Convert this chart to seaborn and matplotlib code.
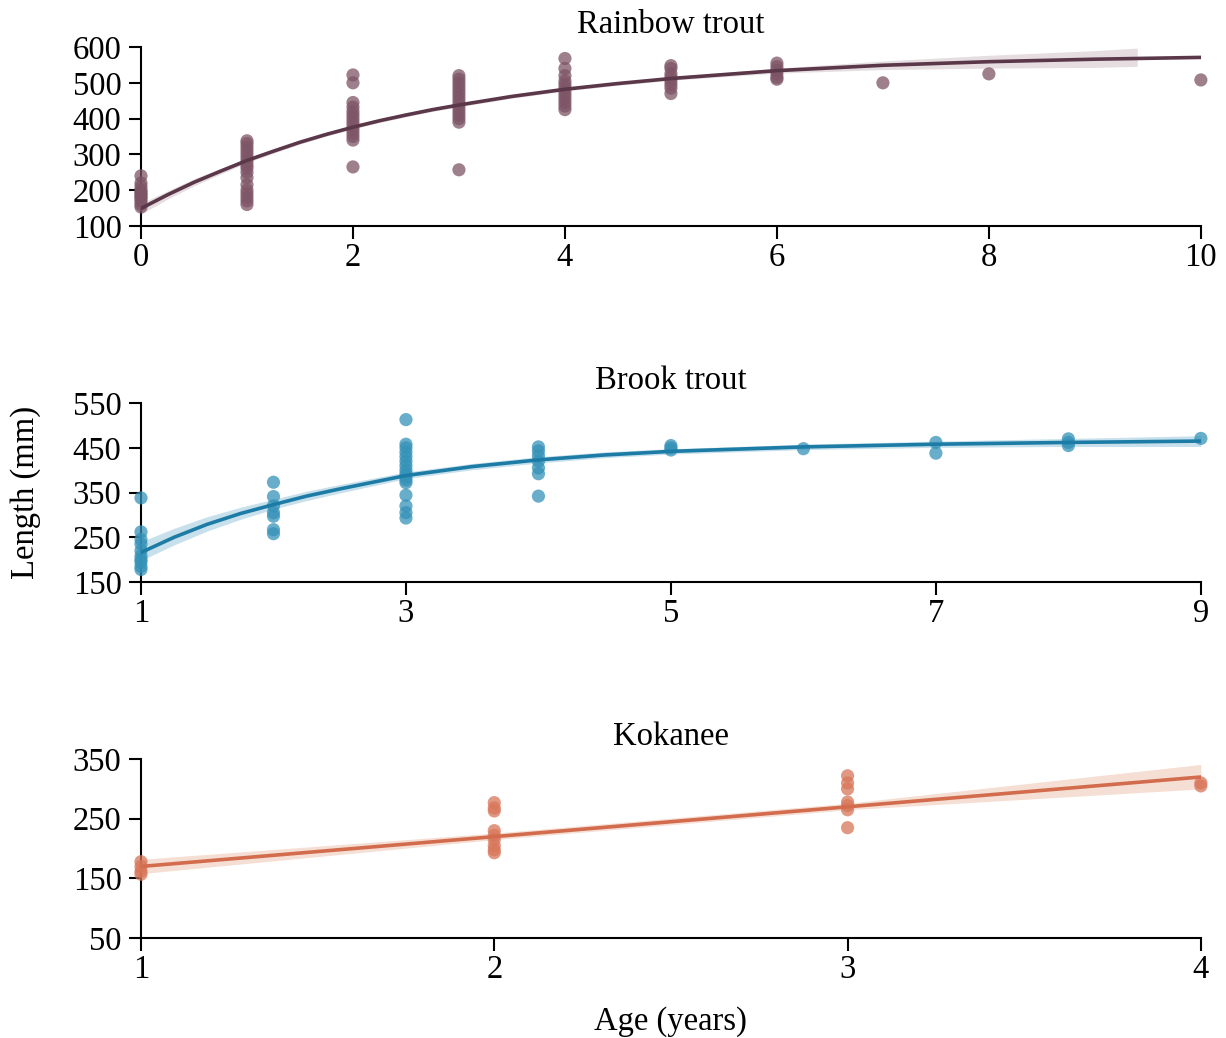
import numpy as np
import pandas as pd
import matplotlib
matplotlib.use("Agg")
import matplotlib.pyplot as plt
import seaborn as sns

# ---- observed lengths (mm) by age (years) ----
rainbow_age = ([0] * 12 + [1] * 17 + [2] * 14 + [3] * 15 + [4] * 12
               + [5] * 8 + [6] * 6 + [7, 8, 10])
rainbow_len = [240, 220, 210, 200, 195, 190, 185, 180, 175, 168, 160, 153,
               338, 330, 320, 310, 300, 290, 280, 270, 262, 250, 235, 215, 200, 190, 180, 170, 160,
               522, 500, 445, 432, 420, 410, 400, 390, 380, 370, 360, 350, 340, 265,
               520, 510, 500, 490, 480, 470, 460, 450, 440, 430, 420, 410, 400, 390, 257,
               568, 540, 520, 505, 495, 485, 475, 465, 455, 445, 435, 425,
               548, 540, 525, 515, 505, 495, 485, 470,
               555, 545, 535, 525, 515, 510,
               500, 525, 508]

brook_age = ([1] * 10 + [2] * 7 + [3] * 16 + [4] * 7 + [5] * 3 + [6]
             + [7] * 2 + [8] * 3 + [9])
brook_len = [338, 262, 245, 235, 220, 208, 200, 195, 185, 178,
             373, 341, 320, 305, 297, 267, 258,
             513, 458, 450, 440, 430, 420, 410, 400, 392, 385, 378, 372, 344, 320, 305, 293,
             452, 443, 432, 420, 405, 392, 342,
             455, 450, 445,
             448,
             462, 438,
             470, 462, 455,
             471]

kokanee_age = [1] * 4 + [2] * 9 + [3] * 7 + [4] * 2
kokanee_len = [178, 170, 162, 157,
               277, 268, 263, 230, 222, 215, 205, 198, 193,
               322, 310, 300, 278, 272, 265, 235,
               310, 305]

# ---- fitted growth curves and 95% bands ----
rainbow_fit_age = [0, 0.25, 0.5, 0.75, 1, 1.25, 1.5, 1.75, 2, 2.25, 2.5, 2.75, 3,
                   3.5, 4, 4.5, 5, 6, 7, 8, 9, 10]
rainbow_fit_len = [149, 187, 222, 253, 283, 309, 334, 356, 376, 394, 410, 425, 438,
                   462, 482, 498, 512, 534, 549, 559, 566, 571]
rainbow_band_age = [0, 0.25, 0.5, 0.75, 1, 1.25, 1.5, 1.75, 2, 2.25, 2.5, 2.75, 3,
                    3.5, 4, 4.5, 5, 6, 7, 8, 9, 9.4]
rainbow_band_lo = [133, 175, 212, 245, 277, 303, 329, 351, 371, 389, 405, 420, 433,
                   457, 477, 493, 507, 527, 537, 541, 543, 546]
rainbow_band_hi = [163, 198, 232, 261, 289, 315, 339, 361, 381, 399, 415, 430, 443,
                   467, 487, 503, 517, 541, 561, 577, 590, 597]

brook_fit_age = [1, 1.25, 1.5, 1.75, 2, 2.25, 2.5, 2.75, 3, 3.5, 4, 4.5, 5, 6, 7, 8, 9]
brook_fit_len = [216, 250, 279, 303, 323, 342, 358, 373, 388, 408, 423, 434, 442,
                 452, 458, 462, 465]
brook_band_lo = [198, 233, 264, 290, 313, 332, 349, 365, 381, 401, 416, 428, 436,
                 446, 451, 453, 453]
brook_band_hi = [240, 270, 296, 317, 335, 353, 368, 382, 396, 415, 430, 441, 448,
                 458, 465, 471, 477]

kokanee_fit_age = [1, 2, 3, 4]
kokanee_fit_len = [170, 220, 270, 320]
kokanee_band_lo = [158, 215, 265, 300]
kokanee_band_hi = [182, 226, 276, 341]

titles = ["Rainbow trout", "Brook trout", "Kokanee"]
line_colors = ["#5b3849", "#1c7ca6", "#d26c4c"]
point_colors = ["#7e5566", "#3592b8", "#d8765a"]
band_colors = ["#e2d8dc", "#bddbe8", "#f4d9cd"]
x_ticks = [[0, 2, 4, 6, 8, 10], [1, 3, 5, 7, 9], [1, 2, 3, 4]]
y_ticks = [[100, 200, 300, 400, 500, 600], [150, 250, 350, 450, 550], [50, 150, 250, 350]]

sns.set_theme(style="ticks")
plt.rcParams["font.family"] = ["Liberation Serif", "DejaVu Serif"]
plt.rcParams["text.color"] = "black"
plt.rcParams["axes.labelcolor"] = "black"
plt.rcParams["axes.linewidth"] = 1.5
plt.rcParams["xtick.major.width"] = 1.5
plt.rcParams["ytick.major.width"] = 1.5
plt.rcParams["xtick.major.size"] = 9
plt.rcParams["ytick.major.size"] = 9

fig = plt.figure(figsize=(12.26, 10.38), dpi=100)
left, width, height = 0.115, 0.8645, 0.1724
bottoms = [0.7823, 0.4393, 0.0963]

panels = [
    (rainbow_age, rainbow_len, rainbow_fit_age, rainbow_fit_len,
     rainbow_band_age, rainbow_band_lo, rainbow_band_hi),
    (brook_age, brook_len, brook_fit_age, brook_fit_len,
     brook_fit_age, brook_band_lo, brook_band_hi),
    (kokanee_age, kokanee_len, kokanee_fit_age, kokanee_fit_len,
     kokanee_fit_age, kokanee_band_lo, kokanee_band_hi),
]

fs = 23.5
for i, (ages, lens, fa, fl, ba, blo, bhi) in enumerate(panels):
    ax = fig.add_axes([left, bottoms[i], width, height])
    df = pd.DataFrame({"age": ages, "length": lens})
    ax.fill_between(ba, blo, bhi, color=band_colors[i], alpha=0.85, lw=0, zorder=1)
    sns.scatterplot(data=df, x="age", y="length", ax=ax, color=point_colors[i],
                    s=90, alpha=0.75, edgecolor="none", clip_on=False, zorder=3,
                    legend=False)
    sns.lineplot(x=fa, y=fl, ax=ax, color=line_colors[i], lw=2.6, zorder=4,
                 estimator=None, sort=True)
    ax.set_xlim(x_ticks[i][0], x_ticks[i][-1])
    ax.set_ylim(y_ticks[i][0], y_ticks[i][-1])
    ax.set_xticks(x_ticks[i])
    ax.set_yticks(y_ticks[i])
    ax.tick_params(axis="y", labelsize=fs, colors="black", pad=5)
    ax.tick_params(axis="x", labelsize=fs, colors="black", pad=3)
    ax.set_title(titles[i], fontsize=fs, pad=10, color="black")
    ax.set_xlabel("")
    ax.set_ylabel("")
    for sp in ["top", "right"]:
        ax.spines[sp].set_visible(False)
    for sp in ["left", "bottom"]:
        ax.spines[sp].set_color("black")

fig.text(0.021, 0.4393 + height / 2, "Length (mm)", rotation=90, fontsize=fs,
         ha="center", va="center")
fig.text(left + width / 2, 0.016, "Age (years)", fontsize=fs, ha="center", va="center")

fig.savefig("out.png", dpi=100, facecolor="white")
